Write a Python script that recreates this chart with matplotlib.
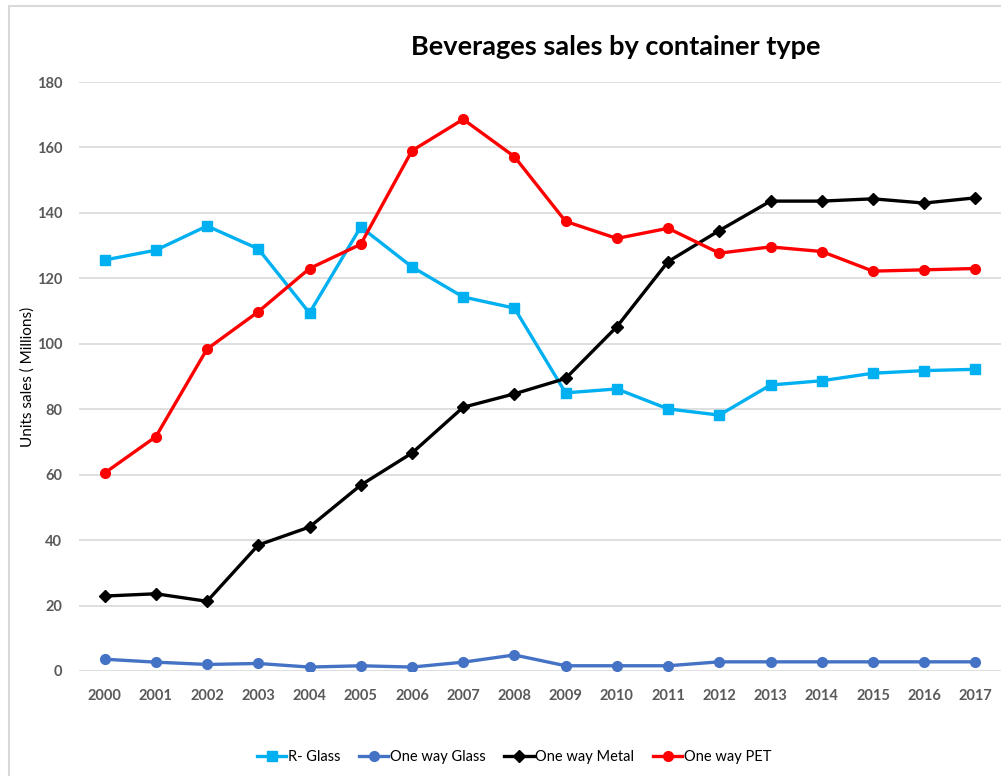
import matplotlib.pyplot as plt
from matplotlib.patches import Rectangle

# values (units sales, millions)
years = ['2000', '2001', '2002', '2003', '2004', '2005', '2006', '2007', '2008',
         '2009', '2010', '2011', '2012', '2013', '2014', '2015', '2016', '2017']

r_glass = [125.6, 128.6, 136.0, 129.0, 109.4, 135.7, 123.5, 114.3, 110.9,
           85.0, 86.2, 80.1, 78.2, 87.4, 88.7, 91.0, 91.8, 92.2]
ow_glass = [3.6, 2.7, 2.0, 2.3, 1.2, 1.6, 1.2, 2.7, 4.9,
            1.6, 1.6, 1.6, 2.8, 2.8, 2.8, 2.8, 2.8, 2.8]
ow_metal = [22.9, 23.6, 21.3, 38.5, 44.0, 56.8, 66.6, 80.6, 84.7,
            89.4, 105.2, 125.1, 134.6, 143.6, 143.6, 144.3, 143.0, 144.6]
ow_pet = [60.5, 71.6, 98.4, 109.8, 123.0, 130.4, 159.0, 168.6, 157.2,
          137.4, 132.2, 135.3, 127.7, 129.6, 128.2, 122.2, 122.6, 123.0]

plt.rcParams['font.family'] = ['Lato', 'DejaVu Sans']

fig = plt.figure(figsize=(10.01, 7.76), dpi=100)
W, H = 1001.0, 776.0

# light border round the chart area
fig.patches.append(Rectangle((9 / W, -0.1), 1.2, (776 - 6) / H + 0.1,
                             transform=fig.transFigure, fill=False,
                             edgecolor='#D9D9D9', linewidth=1.5))

ax = fig.add_axes([79 / W, (776 - 671) / H, (1001 - 79) / W, (671 - 82) / H])
x = range(len(years))

ax.plot(x, r_glass, color='#00B0F0', lw=2.4, marker='s', ms=7.5, label='R- Glass')
ax.plot(x, ow_glass, color='#4472C4', lw=2.4, marker='o', ms=7, label='One way Glass')
ax.plot(x, ow_metal, color='black', lw=2.4, marker='D', ms=6, label='One way Metal')
ax.plot(x, ow_pet, color='#FF0000', lw=2.4, marker='o', ms=7, label='One way PET')

ax.set_xlim(-0.5, len(years) - 0.5)
ax.set_ylim(0, 180)
ax.set_yticks(range(0, 181, 20))
ax.set_xticks(list(x))
ax.set_xticklabels(years)
ax.grid(axis='y', color='#D9D9D9', lw=1.2)
ax.set_axisbelow(True)
for s in ax.spines.values():
    s.set_visible(False)
ax.tick_params(length=0, labelsize=10.5, labelcolor='#595959', pad=12)
for lab in ax.get_xticklabels() + ax.get_yticklabels():
    lab.set_fontweight('bold')
ax.tick_params(axis='x', pad=13)

fig.text(28 / W, 1 - 377 / H, 'Units sales ( Millions)', fontsize=11,
         rotation=90, ha='center', va='center')

fig.text(616 / W, 1 - 47 / H, 'Beverages sales by container type', fontsize=19.5,
         fontweight='bold', ha='center', va='center')

ax.legend(loc='center', bbox_to_anchor=(514 / W, 1 - 757 / H), bbox_transform=fig.transFigure,
          ncol=4, frameon=False, fontsize=10.5, handlelength=2.0, handletextpad=0.1,
          columnspacing=1.3)

plt.savefig('out.png', dpi=100)
